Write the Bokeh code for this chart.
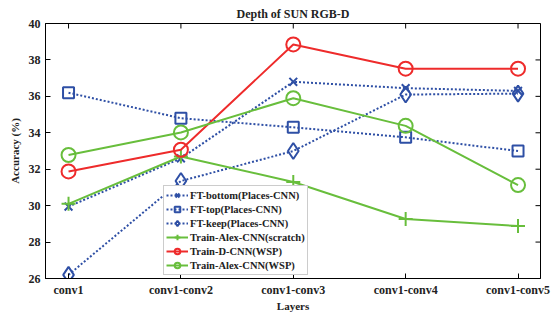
import math
from bokeh.plotting import figure
from bokeh.models import FixedTicker, Legend, LegendItem, Range1d
from bokeh.embed import file_html
from bokeh.resources import INLINE

categories = ["conv1", "conv1-conv2", "conv1-conv3", "conv1-conv4", "conv1-conv5"]
ft_bottom = [29.95, 32.6, 36.8, 36.45, 36.3]
ft_top = [36.2, 34.8, 34.3, 33.75, 33.0]
ft_keep = [26.2, 31.35, 33.0, 36.1, 36.15]
alex_scratch = [30.1, 32.7, 31.3, 29.27, 28.88]
dcnn_wsp = [31.88, 33.07, 38.85, 37.52, 37.52]
alex_wsp = [32.78, 34.02, 35.9, 34.38, 31.13]
yticks = [26, 28, 30, 32, 34, 36, 38, 40]

xs = list(range(len(categories)))
BLUE = "#2E4FA5"
RED = "#EE2B2B"
GREEN = "#68BE3C"
FONT = "Liberation Serif"

xr = Range1d(-0.205, 4.2)
yr = Range1d(26, 40)
p = figure(width=557, height=314, output_backend="svg", toolbar_location=None,
           x_range=xr, y_range=yr, title="Depth of SUN RGB-D")
p.min_border_left = 45
p.min_border_right = 17
p.min_border_top = 23
p.min_border_bottom = 30
p.title.align = "center"
p.title.text_font = FONT
p.title.text_font_size = "12px"
p.title.text_font_style = "bold"
p.title.text_color = "#222222"
p.title.offset = 0
p.title.standoff = 6
p.grid.visible = False
p.outline_line_color = "black"
p.outline_line_width = 1

for ax in p.xaxis:
    ax.ticker = FixedTicker(ticks=xs)
    ax.major_label_overrides = {i: c for i, c in enumerate(categories)}
    ax.axis_label = "Layers"
    ax.major_label_standoff = 4
    ax.axis_label_standoff = 0
for ax in p.yaxis:
    ax.ticker = FixedTicker(ticks=yticks)
    ax.axis_label = "Accuracy (%)"
    ax.major_label_standoff = 5
    ax.axis_label_standoff = 5
for ax in p.xaxis + p.yaxis:
    ax.major_tick_in = 5
    ax.major_tick_out = 0
    ax.minor_tick_line_color = None
    ax.major_label_text_font = FONT
    ax.major_label_text_font_size = "12px"
    ax.major_label_text_font_style = "bold"
    ax.major_label_text_color = "#222222"
    ax.axis_label_text_font = FONT
    ax.axis_label_text_font_size = "11px"
    ax.axis_label_text_font_style = "bold"
    ax.axis_label_text_color = "#222222"
    ax.axis_line_color = "black"
    ax.major_tick_line_color = "black"

# mirrored inward ticks on the top and right edges of the box
p.scatter(xs, [yr.end] * len(xs), marker="dash", angle=math.pi / 2, size=10,
          line_color="black", line_width=1)
p.scatter([xr.end] * len(yticks), yticks, marker="dash", size=10,
          line_color="black", line_width=1)

items = []
l1 = p.line(xs, ft_bottom, color=BLUE, line_width=2, line_dash="2 2")
m1 = p.scatter(xs, ft_bottom, marker="x", size=11, line_color=BLUE, line_width=2)
items.append(LegendItem(label="FT-bottom(Places-CNN)", renderers=[l1, m1]))

l2 = p.line(xs, ft_top, color=BLUE, line_width=2, line_dash="2 2")
m2 = p.scatter(xs, ft_top, marker="square", size=11, line_color=BLUE, fill_color=None, line_width=2)
items.append(LegendItem(label="FT-top(Places-CNN)", renderers=[l2, m2]))

l3 = p.line(xs, ft_keep, color=BLUE, line_width=2, line_dash="2 2")
m3 = p.scatter(xs, ft_keep, marker="diamond", size=16, line_color=BLUE, fill_color=None, line_width=2)
items.append(LegendItem(label="FT-keep(Places-CNN)", renderers=[l3, m3]))

l4 = p.line(xs, alex_scratch, color=GREEN, line_width=2)
m4 = p.scatter(xs, alex_scratch, marker="cross", size=14, line_color=GREEN, line_width=2)
items.append(LegendItem(label="Train-Alex-CNN(scratch)", renderers=[l4, m4]))

l5 = p.line(xs, dcnn_wsp, color=RED, line_width=2)
m5 = p.scatter(xs, dcnn_wsp, marker="circle", size=14, line_color=RED, fill_color=None, line_width=2)
items.append(LegendItem(label="Train-D-CNN(WSP)", renderers=[l5, m5]))

l6 = p.line(xs, alex_wsp, color=GREEN, line_width=2)
m6 = p.scatter(xs, alex_wsp, marker="circle", size=14, line_color=GREEN, fill_color=None, line_width=2)
items.append(LegendItem(label="Train-Alex-CNN(WSP)", renderers=[l6, m6]))

legend = Legend(items=items, location=(118, 3))
legend.label_text_font = FONT
legend.label_text_font_size = "10.5px"
legend.label_text_font_style = "bold"
legend.label_text_color = "#222222"
legend.label_height = 14
legend.glyph_height = 14
legend.glyph_width = 22
legend.spacing = 0
legend.padding = 2
legend.margin = 0
legend.label_standoff = 2
legend.border_line_color = "#999999"
legend.border_line_width = 1
legend.background_fill_alpha = 1
p.add_layout(legend, "center")

open("out.html", "w").write(file_html(p, INLINE))
